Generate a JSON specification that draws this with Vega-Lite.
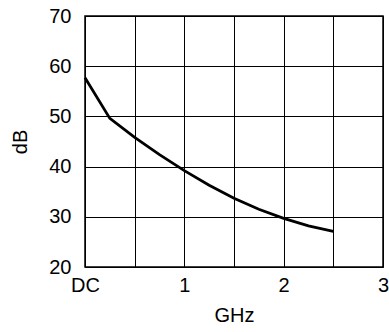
{
  "$schema": "https://vega.github.io/schema/vega-lite/v6.json",
  "width": 298,
  "height": 251,
  "autosize": "none",
  "padding": {"left": 85, "top": 16, "right": 6, "bottom": 65},
  "background": "white",
  "config": {
    "view": {"stroke": "black", "strokeWidth": 1.5},
    "font": "Liberation Sans"
  },
  "data": {
    "values": [
      {"f": 0, "db": 57.7},
      {"f": 0.25, "db": 49.6},
      {"f": 0.5, "db": 45.8},
      {"f": 0.75, "db": 42.4},
      {"f": 1.0, "db": 39.2},
      {"f": 1.25, "db": 36.3},
      {"f": 1.5, "db": 33.7},
      {"f": 1.75, "db": 31.5},
      {"f": 2.0, "db": 29.7},
      {"f": 2.25, "db": 28.2},
      {"f": 2.5, "db": 27.1}
    ]
  },
  "mark": {"type": "line", "color": "black", "strokeWidth": 2.8, "interpolate": "linear"},
  "encoding": {
    "x": {
      "field": "f",
      "type": "quantitative",
      "scale": {"domain": [0, 3], "nice": false},
      "axis": {
        "values": [0, 0.5, 1, 1.5, 2, 2.5, 3],
        "labelExpr": "datum.value == 0 ? 'DC' : (datum.value % 1 == 0 ? toString(datum.value) : '')",
        "title": "GHz",
        "titleFontSize": 20,
        "titleFontWeight": "normal",
        "titleColor": "black",
        "titlePadding": 10,
        "labelFontSize": 20,
        "labelColor": "black",
        "labelPadding": 8,
        "ticks": false,
        "domain": false,
        "gridColor": "black",
        "gridOpacity": 1,
        "gridWidth": 1,
        "labelFlush": false
      }
    },
    "y": {
      "field": "db",
      "type": "quantitative",
      "scale": {"domain": [20, 70], "nice": false},
      "axis": {
        "values": [20, 30, 40, 50, 60, 70],
        "title": "dB",
        "titleFontSize": 20,
        "titleFontWeight": "normal",
        "titleColor": "black",
        "titlePadding": 18,
        "labelFontSize": 20,
        "labelColor": "black",
        "labelPadding": 14,
        "ticks": false,
        "domain": false,
        "gridColor": "black",
        "gridOpacity": 1,
        "gridWidth": 1
      }
    }
  }
}
